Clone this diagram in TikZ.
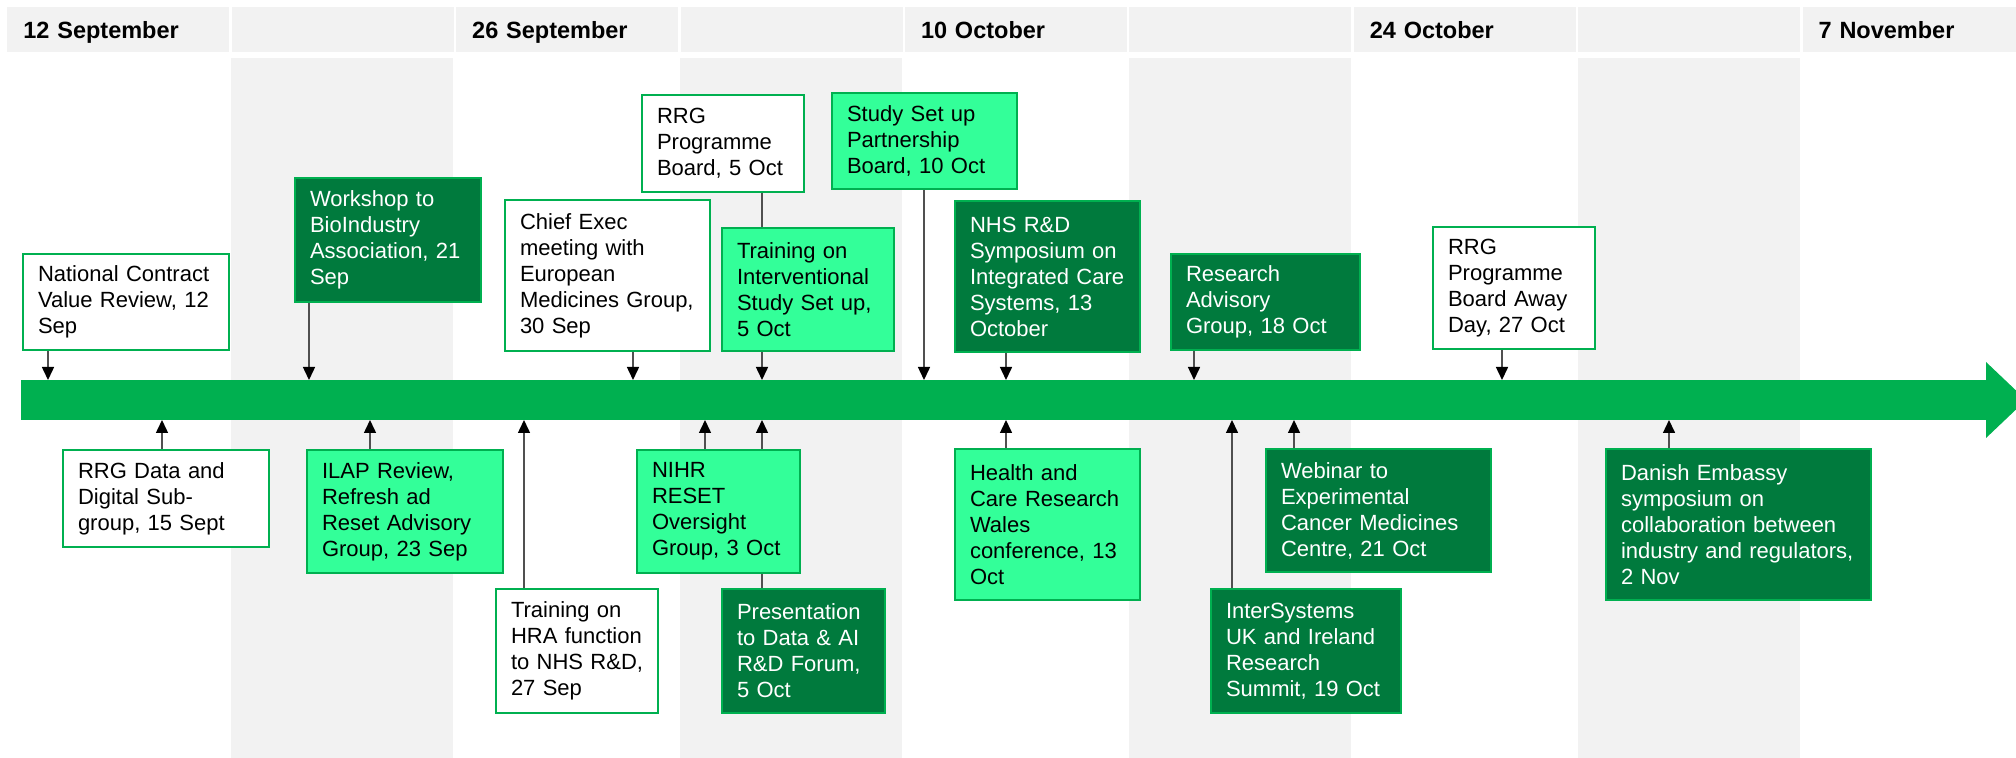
\documentclass[tikz,border=0pt]{standalone}
\usepackage{fontspec}
\setmainfont{Liberation Sans}
\usetikzlibrary{arrows.meta}
\definecolor{bargreen}{HTML}{00B050}
\definecolor{bordergreen}{HTML}{00B050}
\definecolor{darkgreen}{HTML}{007A3D}
\definecolor{lightgreen}{HTML}{33FF99}
\definecolor{hdrgray}{HTML}{F2F2F2}
\definecolor{linegray}{HTML}{505050}
\begin{document}
\begin{tikzpicture}[x=0.5pt,y=-0.5pt,
  hdr/.style={fill=hdrgray, inner sep=0pt, minimum width=111pt, minimum height=22.5pt,
    text width=95pt, text depth=0pt, align=left, anchor=north west, font=\bfseries\fontsize{11.75}{14}\selectfont},
  evbox/.style={draw=bordergreen, line width=1pt, inner sep=0pt, align=left, anchor=north west,
    font=\fontsize{11}{13}\selectfont},
  evwhite/.style={evbox, fill=white},
  evlight/.style={evbox, fill=lightgreen},
  evdark/.style={evbox, fill=darkgreen, text=white},
  link/.style={draw=linegray, line width=0.75pt},
  evarrow/.style={link, -{Triangle[length=6.5pt,width=6pt,black]}}
]
\path[use as bounding box] (0,0) rectangle (2016,758);
\fill[white] (0,0) rectangle (2016,758);
% shaded columns
\fill[hdrgray] (231.4,58) rectangle +(222,700);
\fill[hdrgray] (680.2,58) rectangle +(222,700);
\fill[hdrgray] (1129,58) rectangle +(222,700);
\fill[hdrgray] (1577.8,58) rectangle +(222,700);
% header
\node[hdr] (h0) at (7,7) {12 September};
\node[hdr] (h1) at (231.4,7) {};
\node[hdr] (h2) at (455.8,7) {26 September};
\node[hdr] (h3) at (680.2,7) {};
\node[hdr] (h4) at (904.6,7) {10 October};
\node[hdr] (h5) at (1129,7) {};
\node[hdr] (h6) at (1353.4,7) {24 October};
\node[hdr] (h7) at (1577.8,7) {};
\node[hdr] (h8) at (1802.2,7) {7 November};
% timeline bar
\node[fill=bargreen, inner sep=0pt, minimum width=983.5pt, minimum height=20pt, anchor=north west] (bar) at (21,380) {};
\fill[bargreen] (1986,362) -- (2026,400) -- (1986,438) -- cycle;
% events above
\node[evwhite, minimum width=103pt, minimum height=48pt, text width=88pt] (nat) at (22,253)
  {National~Contract\\Value~Review,~12\\Sep};
\node[evdark, minimum width=93pt, minimum height=62pt, text width=78pt] (work) at (294,177)
  {Workshop~to\\BioIndustry\\Association,~21\\Sep};
\node[evwhite, minimum width=102.5pt, minimum height=75.5pt, text width=87.5pt] (chief) at (504,199)
  {Chief~Exec\\meeting~with\\European\\Medicines~Group,\\30~Sep};
\node[evwhite, minimum width=81pt, minimum height=48.5pt, text width=66pt] (rrg5) at (641,94)
  {RRG\\Programme\\Board,~5~Oct};
\node[evlight, minimum width=86pt, minimum height=61.5pt, text width=71pt] (train5) at (721,227)
  {Training~on\\Interventional\\Study~Set~up,\\5~Oct};
\node[evlight, minimum width=92.5pt, minimum height=48pt, text width=77.5pt] (ssp) at (831,92)
  {Study~Set~up\\Partnership\\Board,~10~Oct};
\node[evdark, minimum width=92.5pt, minimum height=75.5pt, text width=77.5pt] (nhs) at (954,200)
  {NHS~R\&D\\Symposium~on\\Integrated~Care\\Systems,~13\\October};
\node[evdark, minimum width=94.5pt, minimum height=48pt, text width=79.5pt] (rag) at (1170,253)
  {Research\\Advisory\\Group,~18~Oct};
\node[evwhite, minimum width=81pt, minimum height=61pt, text width=66pt] (away) at (1432,226)
  {RRG\\Programme\\Board~Away\\Day,~27~Oct};
% events below
\node[evwhite, minimum width=103pt, minimum height=48.5pt, text width=88pt] (data) at (62,449)
  {RRG~Data~and\\Digital~Sub-\\group,~15~Sept};
\node[evlight, minimum width=98pt, minimum height=61.5pt, text width=83pt] (ilap) at (306,449)
  {ILAP~Review,\\Refresh~ad\\Reset~Advisory\\Group,~23~Sep};
\node[evwhite, minimum width=81pt, minimum height=62pt, text width=66pt] (hra) at (495,588)
  {Training~on\\HRA~function\\to~NHS~R\&D,\\27~Sep};
\node[evlight, minimum width=81.5pt, minimum height=61.5pt, text width=66.5pt] (nihr) at (636,449)
  {NIHR\\RESET\\Oversight\\Group,~3~Oct};
\node[evdark, minimum width=81.5pt, minimum height=62pt, text width=66.5pt] (pres) at (721,588)
  {Presentation\\to~Data~\&~AI\\R\&D~Forum,\\5~Oct};
\node[evlight, minimum width=92.5pt, minimum height=75.5pt, text width=77.5pt] (hcrw) at (954,448)
  {Health~and\\Care~Research\\Wales\\conference,~13\\Oct};
\node[evdark, minimum width=112.5pt, minimum height=61.5pt, text width=97.5pt] (web) at (1265,448)
  {Webinar~to\\Experimental\\Cancer~Medicines\\Centre,~21~Oct};
\node[evdark, minimum width=95pt, minimum height=62pt, text width=80pt] (inter) at (1210,588)
  {InterSystems\\UK~and~Ireland\\Research\\Summit,~19~Oct};
\node[evdark, minimum width=132.5pt, minimum height=75.5pt, text width=117.5pt] (dan) at (1605,448)
  {Danish~Embassy\\symposium~on\\collaboration~between\\industry~and~regulators,\\2~Nov};
% points on the bar
\coordinate (tnat) at (48,380);
\coordinate (twork) at (309,380);
\coordinate (tchief) at (633,380);
\coordinate (ttrain) at (762,380);
\coordinate (tssp) at (924,380);
\coordinate (tnhs) at (1006,380);
\coordinate (trag) at (1194,380);
\coordinate (taway) at (1502,380);
\coordinate (bdata) at (162,420);
\coordinate (bilap) at (370,420);
\coordinate (bhra) at (524,420);
\coordinate (bnihr) at (705,420);
\coordinate (bpres) at (762,420);
\coordinate (bhcrw) at (1006,420);
\coordinate (binter) at (1232,420);
\coordinate (bweb) at (1294,420);
\coordinate (bdan) at (1669,420);
% connectors above
\draw[evarrow] (nat.south -| tnat) -- (tnat);
\draw[evarrow] (work.south -| twork) -- (twork);
\draw[evarrow] (chief.south -| tchief) -- (tchief);
\draw[link] (rrg5.south -| ttrain) -- (train5.north -| ttrain);
\draw[evarrow] (train5.south -| ttrain) -- (ttrain);
\draw[evarrow] (ssp.south -| tssp) -- (tssp);
\draw[evarrow] (nhs.south -| tnhs) -- (tnhs);
\draw[evarrow] (rag.south -| trag) -- (trag);
\draw[evarrow] (away.south -| taway) -- (taway);
% connectors below
\draw[evarrow] (data.north -| bdata) -- (bdata);
\draw[evarrow] (ilap.north -| bilap) -- (bilap);
\draw[evarrow] (hra.north -| bhra) -- (bhra);
\draw[evarrow] (nihr.north -| bnihr) -- (bnihr);
\draw[link] (pres.north -| bpres) -- (nihr.south -| bpres);
\draw[evarrow] (nihr.north -| bpres) -- (bpres);
\draw[evarrow] (hcrw.north -| bhcrw) -- (bhcrw);
\draw[evarrow] (inter.north -| binter) -- (binter);
\draw[evarrow] (web.north -| bweb) -- (bweb);
\draw[evarrow] (dan.north -| bdan) -- (bdan);
\end{tikzpicture}
\end{document}
